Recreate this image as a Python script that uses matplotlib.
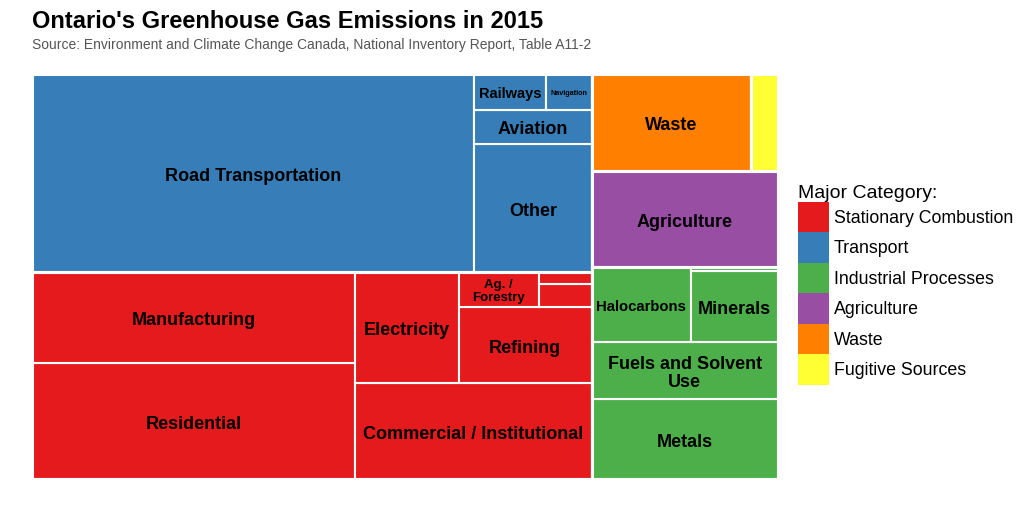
import textwrap
import matplotlib
matplotlib.use('Agg')
import matplotlib.pyplot as plt
from matplotlib.patches import Rectangle, Patch
from matplotlib.transforms import ScaledTranslation

plt.rcParams['font.family'] = ['Liberation Sans', 'DejaVu Sans']

# emissions in Mt CO2 eq
categories = ['Stationary Combustion', 'Transport', 'Industrial Processes',
              'Agriculture', 'Waste', 'Fugitive Sources']
colours = ['#E41A1C', '#377EB8', '#4DAF4A', '#984EA3', '#FF7F00', '#FFFF33']

stationary_labels = ['Residential', 'Manufacturing', 'Commercial / Institutional',
                     'Electricity', 'Refining', 'Ag. / Forestry',
                     'Mining and Upstream Oil and Gas Production', 'Construction']
stationary_values = [20.6, 16.1, 12.4, 6.3, 5.6, 1.5, 0.65, 0.35]

transport_labels = ['Road Transportation', 'Other', 'Aviation', 'Railways', 'Navigation']
transport_values = [48.2, 8.3, 2.2, 1.4, 0.9]

industrial_labels = ['Metals', 'Fuels and Solvent Use', 'Halocarbons', 'Minerals',
                     'Other Product Manufacture and Use']
industrial_values = [8.2, 5.8, 4.1, 3.4, 0.2]

agriculture_labels = ['Agriculture']
agriculture_values = [9.8]
waste_labels = ['Waste']
waste_values = [8.5]
fugitive_labels = ['Fugitive Sources']
fugitive_values = [1.45]

groups = [(stationary_labels, stationary_values),
          (transport_labels, transport_values),
          (industrial_labels, industrial_values),
          (agriculture_labels, agriculture_values),
          (waste_labels, waste_values),
          (fugitive_labels, fugitive_values)]


def worst(row, side):
    s = sum(row)
    return max(max(side * side * r / (s * s), s * s / (side * side * r)) for r in row)


def squarify(values, x, y, w, h):
    # squarified layout, starting at the bottom left corner
    order = sorted(range(len(values)), key=lambda i: -values[i])
    total = sum(values)
    areas = [values[i] / total * w * h for i in order]
    rects = [None] * len(values)
    k = 0
    while k < len(areas):
        side = min(w, h)
        row = [areas[k]]
        j = k + 1
        while j < len(areas) and worst(row + [areas[j]], side) <= worst(row, side):
            row.append(areas[j])
            j += 1
        s = sum(row)
        if w >= h:
            cw = s / h
            yy = y
            for n, a in enumerate(row):
                rects[order[k + n]] = (x, yy, cw, a / cw)
                yy += a / cw
            x += cw
            w -= cw
        else:
            rh = s / w
            xx = x
            for n, a in enumerate(row):
                rects[order[k + n]] = (xx, y, a / rh, rh)
                xx += a / rh
            y += rh
            h -= rh
        k = j
    return rects


fig = plt.figure(figsize=(10.24, 5.12), dpi=100)
ax = fig.add_axes([32 / 1024, 33 / 512, 746 / 1024, 405 / 512])
ax.set_xlim(0, 1)
ax.set_ylim(0, 1)
ax.axis('off')
renderer = fig.canvas.get_renderer()
ax_w, ax_h = 746, 405


def fit_label(txt, label, wpx, hpx):
    cands = [label] + ['\n'.join(textwrap.wrap(label, n, break_long_words=False))
                       for n in range(len(label) - 1, 0, -1)]
    cands = list(dict.fromkeys(cands))
    fs = 13
    while fs >= 4:
        txt.set_fontsize(fs)
        for c in cands:
            txt.set_text(c)
            bb = txt.get_window_extent(renderer)
            if bb.width <= wpx and bb.height <= hpx:
                # nudge down a little so the capitals sit in the middle
                txt.set_transform(ax.transData +
                                  ScaledTranslation(0, -0.17 * fs / 72, fig.dpi_scale_trans))
                return
        fs -= 0.25
    txt.set_visible(False)


group_rects = squarify([sum(v) for _, v in groups], 0, 0, 1, 1)
for (labels, values), (gx, gy, gw, gh), col in zip(groups, group_rects, colours):
    for lab, (x, y, w, h) in zip(labels, squarify(values, gx, gy, gw, gh)):
        ax.add_patch(Rectangle((x, y), w, h, facecolor=col, edgecolor='white', lw=1.5))
        t = ax.text(x + w / 2, y + h / 2, lab, ha='center', va='center',
                    fontweight='bold', color='black', linespacing=1.1)
        fit_label(t, lab, w * ax_w - 8, h * ax_h - 8)
    ax.add_patch(Rectangle((gx, gy), gw, gh, facecolor='none', edgecolor='white', lw=2.2))

fig.text(32 / 1024, 1 - 27.5 / 512, "Ontario's Greenhouse Gas Emissions in 2015",
         fontsize=17, fontweight='bold', va='baseline')
fig.text(32 / 1024, 1 - 49.5 / 512,
         'Source: Environment and Climate Change Canada, National Inventory Report, Table A11-2',
         fontsize=10, color='#555555', va='baseline')

handles = [Patch(facecolor=c, edgecolor='none') for c in colours]
fig.legend(handles, categories, loc='upper left', bbox_to_anchor=(798 / 1024, 1 - 185 / 512),
           frameon=False, title='Major Category:', title_fontsize=14, fontsize=12.8,
           handlelength=1.75, handleheight=2.26, handletextpad=0.25, labelspacing=0,
           borderpad=0, borderaxespad=0, alignment='left')

fig.savefig('out.png', dpi=100, facecolor='white')
